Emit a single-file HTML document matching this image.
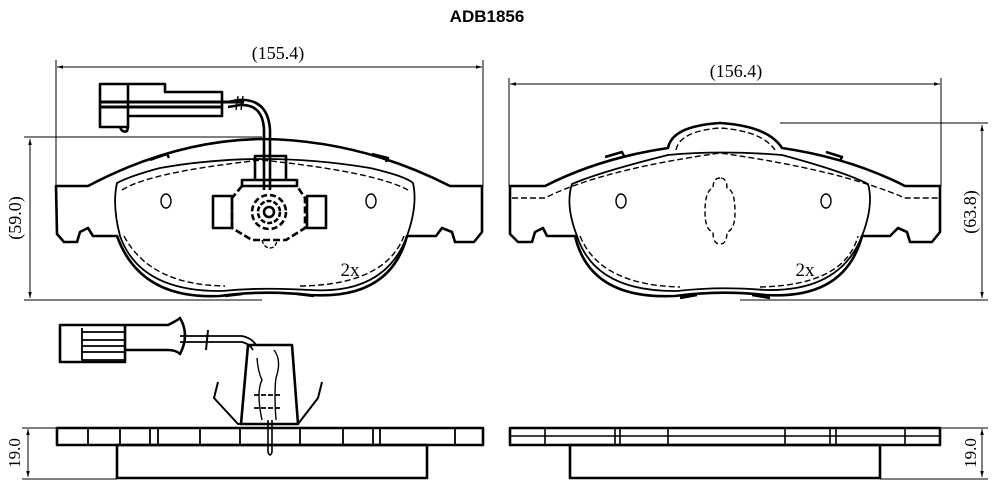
<!DOCTYPE html>
<html><head><meta charset="utf-8"><style>
html,body{margin:0;padding:0;background:#fff;width:998px;height:496px;overflow:hidden}
svg{display:block}
text{font-family:"Liberation Serif",serif;fill:#000}
</style></head><body>
<svg width="998" height="496" viewBox="0 0 998 496" xmlns="http://www.w3.org/2000/svg">
<defs>
<marker id="a" viewBox="0 0 10 10" refX="10" refY="5" markerWidth="10" markerHeight="6" orient="auto-start-reverse"><path d="M0,2 L10,5 L0,8 z" fill="#000"/></marker>
</defs>
<text x="487" y="22" font-weight="bold" font-size="17" text-anchor="middle" style="font-family:'Liberation Sans',sans-serif">ADB1856</text>

<g stroke="#000" stroke-width="1" fill="none">
<line x1="57" y1="67" x2="482" y2="67" marker-start="url(#a)" marker-end="url(#a)"/>
<line x1="56" y1="60" x2="56" y2="186"/><line x1="483" y1="60" x2="483" y2="186"/>
<line x1="510" y1="84" x2="940" y2="84" marker-start="url(#a)" marker-end="url(#a)"/>
<line x1="509" y1="78" x2="509" y2="186"/><line x1="941" y1="78" x2="941" y2="186"/>
<line x1="30" y1="139" x2="30" y2="298" marker-start="url(#a)" marker-end="url(#a)"/>
<line x1="24" y1="137" x2="262" y2="137"/><line x1="24" y1="300" x2="262" y2="300"/>
<line x1="982" y1="125" x2="982" y2="298" marker-start="url(#a)" marker-end="url(#a)"/>
<line x1="780" y1="123" x2="988" y2="123"/><line x1="740" y1="300" x2="988" y2="300"/>
<line x1="28" y1="429" x2="28" y2="477" marker-start="url(#a)" marker-end="url(#a)"/>
<line x1="22" y1="428" x2="57" y2="428"/><line x1="22" y1="479" x2="117" y2="479"/>
<line x1="982" y1="429" x2="982" y2="477" marker-start="url(#a)" marker-end="url(#a)"/>
<line x1="940" y1="428" x2="988" y2="428"/><line x1="880" y1="479" x2="988" y2="479"/>
</g>
<text x="278" y="59" font-size="18" text-anchor="middle">(155.4)</text>
<text x="736" y="77" font-size="18" text-anchor="middle">(156.4)</text>
<text transform="translate(21,218) rotate(-90)" font-size="18" text-anchor="middle">(59.0)</text>
<text transform="translate(976,212) rotate(-90)" font-size="18" text-anchor="middle">(63.8)</text>
<text transform="translate(20,453) rotate(-90)" font-size="17" text-anchor="middle">19.0</text>
<text transform="translate(976,453) rotate(-90)" font-size="17" text-anchor="middle">19.0</text>
<text x="350" y="276" font-size="19" text-anchor="middle">2x</text>
<text x="805" y="276" font-size="19" text-anchor="middle">2x</text>

<g stroke="#000" stroke-width="2.6" fill="none" stroke-linejoin="round">
<path d="M56,186 L88,186 Q175,140 262,139 Q360,140 450,186 L482,186 L482,232 L474,242 L455,242 L452,232 L442,228 L436,236 L407,236 Q390,300 310,295 Q262,290 220,296 Q140,300 117,236 L93,236 L88,228 L80,232 L77,242 L64,242 L57,234 Z"/>
<path d="M117,183 Q130,176 160,168 Q262,150 370,168 Q405,176 413,183 Q418,205 407,236 Q385,295 310,290 Q262,287 222,291 Q140,292 120,236 Q112,205 117,183 Z" stroke-width="1.8"/>
<path d="M122,190 Q150,172 262,160 Q375,172 408,190 M124,236 Q150,285 225,286 M300,286 Q385,285 404,236" stroke-width="1.4" stroke-dasharray="6,3"/>
<ellipse cx="166" cy="201" rx="5" ry="7" stroke-width="1.4"/>
<ellipse cx="371" cy="201" rx="5" ry="7" stroke-width="1.4"/>
<path d="M150,160 L167,154 L169,158 M372,154 L388,158 L386,162 M225,296 L242,294 M297,294 L314,296" stroke-width="2.5"/>
<rect x="100" y="84" width="28" height="43"/>
<path d="M128,84 L165,84 L165,92 L222,92 L222,116 L128,116"/>
<path d="M100,102 L244,102 M100,107 L222,107" stroke-width="3"/>
<path d="M120,127 Q122,133 127,131 L128,127"/>
<path d="M228,102 L238,100 Q268,98 270,130 L270,190 M228,107 L240,105 Q263,104 264,130 L264,190"/>
<path d="M238,96 L236,110 M243,96 L241,110" stroke-width="1.4"/>
<path d="M255,156 L286,156 L286,180 L255,180 Z M242,180 L297,180 L297,186 L242,186 Z"/>
<path d="M242,186 L232,198 L232,228 L252,240 L286,240 L305,228 L305,198 L297,186" stroke-dasharray="7,3"/>
<rect x="213" y="196" width="19" height="32"/><rect x="307" y="196" width="19" height="32"/>
<circle cx="269" cy="212" r="17" stroke-dasharray="6,3"/>
<circle cx="269" cy="212" r="11" stroke-dasharray="5,2"/>
<circle cx="269" cy="212" r="5"/>
<path d="M262,240 Q264,248 270,248 Q276,248 277,240" stroke-dasharray="4,2" stroke-width="1.4"/>

<path d="M510,186 L545,186 Q600,158 668,148 Q672,126 720,123 Q768,126 782,148 Q850,158 905,186 L940,186 L940,232 L932,242 L910,242 L907,232 L898,228 L890,236 L862,236 Q845,300 765,295 Q720,290 675,296 Q590,300 575,236 L547,236 L543,228 L535,232 L532,242 L518,242 L510,234 Z"/>
<path d="M572,184 Q600,172 668,155 Q720,150 782,155 Q845,172 868,184 Q874,205 862,236 Q840,292 765,290 Q720,286 677,291 Q595,292 577,236 Q565,205 572,184 Z" stroke-width="1.8"/>
<path d="M676,150 Q680,131 720,128 Q762,131 775,150 M512,198 L545,198 Q600,170 720,153 Q840,170 905,198 L940,198 M580,236 Q600,285 680,287 M760,287 Q845,285 858,236" stroke-width="1.4" stroke-dasharray="6,3"/>
<ellipse cx="621" cy="201" rx="5" ry="7" stroke-width="1.4"/>
<ellipse cx="826" cy="201" rx="5" ry="7" stroke-width="1.4"/>
<path d="M720,178 Q713,178 713,188 Q705,190 705,212 Q705,230 713,232 Q713,244 720,244 Q727,244 727,232 Q735,230 735,212 Q735,190 727,188 Q727,178 720,178 Z" stroke-width="1.4" stroke-dasharray="5,3"/>
<path d="M605,157 L622,152 L624,156 M826,152 L842,157 L840,161 M680,298 L697,295 M752,295 L770,298" stroke-width="2.5"/>

<rect x="57" y="428" width="426" height="17"/>
<rect x="117" y="445" width="310" height="33"/>
<path d="M88,428 L88,445 M120,428 L120,445 M150,428 L150,445 M158,428 L158,445 M200,428 L200,445 M240,428 L240,445 M300,428 L300,445 M343,428 L343,445 M373,428 L373,445 M380,428 L380,445 M455,428 L455,445" stroke-width="1.8"/>
<rect x="60" y="325" width="65" height="37"/>
<path d="M82,328 L82,360 L125,360 M82,332 L125,332 M82,340 L125,340 M82,346 L125,346 M82,352 L125,352" stroke-width="1.8"/>
<path d="M125,325 L168,325 Q178,320 180,318 Q190,335 180,354 Q176,350 168,350 L125,350"/>
<path d="M180,336 L242,336 Q252,338 256,345 M180,342 L242,342 Q250,344 253,350" stroke-width="1.8"/>
<path d="M208,330 L206,350" stroke-width="2"/>
<path d="M248,345 L292,345 L298,424 L241,424 Z"/>
<path d="M218,382 L214,398 L238,424 L298,424 L318,398 L322,382 M238,428 L300,428" stroke-width="2"/>
<path d="M257,358 Q258,372 262,380 Q256,392 262,420 M274,350 Q282,360 276,378 Q274,392 276,420" stroke-width="1.4"/>
<path d="M254,395 L280,395 M254,408 L280,408" stroke-width="1.8" stroke-dasharray="5,2"/>
<path d="M268,420 L268,452 Q270,458 272,452 L272,420" stroke-width="1.6"/>

<rect x="510" y="428" width="430" height="17"/>
<rect x="570" y="445" width="310" height="33"/>
<path d="M510,436 L940,436 M545,428 L545,445 M615,428 L615,445 M620,428 L620,445 M668,428 L668,445 M785,428 L785,445 M830,428 L830,445 M836,428 L836,445 M905,428 L905,445" stroke-width="1.6"/>
</g>
</svg>
</body></html>
